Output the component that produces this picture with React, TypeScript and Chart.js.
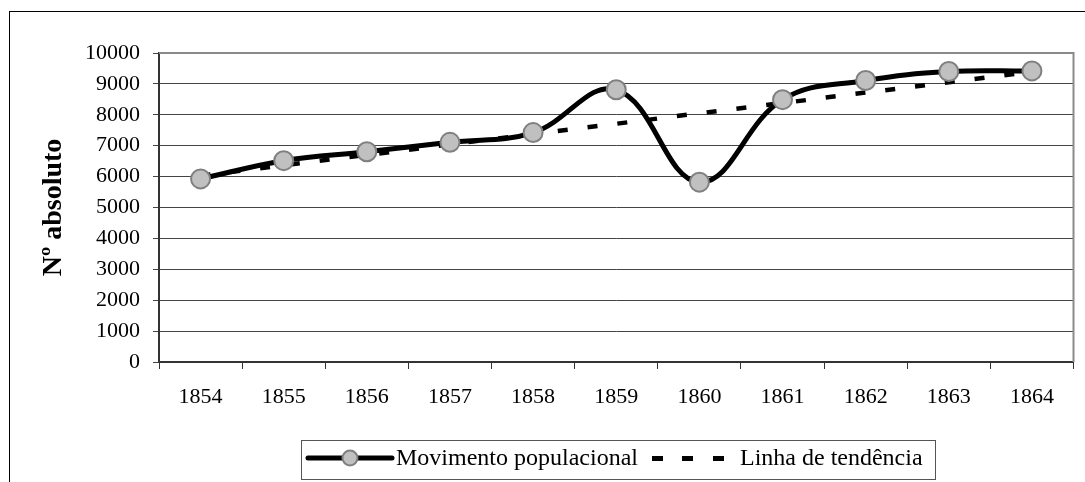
import React, { useEffect, useRef } from "react";
import { Chart, registerables } from "chart.js";

Chart.register(...registerables);

const years = ["1854", "1855", "1856", "1857", "1858", "1859", "1860", "1861", "1862", "1863", "1864"];
const population = [5925, 6515, 6805, 7110, 7425, 8810, 5820, 8490, 9110, 9400, 9420];
const trend = [6030, 6370, 6700, 7040, 7380, 7710, 8050, 8380, 8720, 9050, 9390];
const seriesNames = ["Movimento populacional", "Linha de tendência"];
const yAxisTitle = "Nº absoluto";
const yMin = 0;
const yMax = 10000;
const yStep = 1000;

const FONT = "'Liberation Serif', 'Times New Roman', serif";

const framePlugin = {
  id: "frameAndLegend",
  beforeDraw(chart: any) {
    const ctx = chart.ctx;
    ctx.save();
    ctx.fillStyle = "#ffffff";
    ctx.fillRect(0, 0, chart.width, chart.height);
    ctx.strokeStyle = "#000000";
    ctx.lineWidth = 1;
    ctx.strokeRect(9.5, 11.5, 2000, 2000);
    ctx.restore();
  },
  beforeDatasetsDraw(chart: any) {
    const ctx = chart.ctx;
    const a = chart.chartArea;
    ctx.save();
    ctx.strokeStyle = "#8a8a8a";
    ctx.lineWidth = 2;
    ctx.beginPath();
    ctx.moveTo(a.left, a.top);
    ctx.lineTo(a.right, a.top);
    ctx.lineTo(a.right, a.bottom);
    ctx.stroke();
    ctx.restore();
  },
  afterDraw(chart: any) {
    const ctx = chart.ctx;
    ctx.save();
    ctx.strokeStyle = "#555555";
    ctx.lineWidth = 1;
    ctx.strokeRect(301.5, 440.5, 634, 39);
    const cy = 458;
    ctx.strokeStyle = "#000000";
    ctx.lineWidth = 5;
    ctx.lineCap = "round";
    ctx.beginPath();
    ctx.moveTo(308, cy);
    ctx.lineTo(392, cy);
    ctx.stroke();
    ctx.beginPath();
    ctx.arc(350, cy, 7.5, 0, Math.PI * 2);
    ctx.fillStyle = "#c0c0c0";
    ctx.fill();
    ctx.strokeStyle = "#808080";
    ctx.lineWidth = 2;
    ctx.stroke();
    ctx.fillStyle = "#000000";
    ctx.font = `24px ${FONT}`;
    ctx.textBaseline = "middle";
    ctx.textAlign = "left";
    ctx.fillText(seriesNames[0], 396, cy + 1);
    [652, 682, 713].forEach((x) => ctx.fillRect(x, cy - 2, 11, 5));
    ctx.fillText(seriesNames[1], 740, cy + 1);
    ctx.restore();
  },
};

export default function App() {
  const ref = useRef<HTMLCanvasElement | null>(null);

  useEffect(() => {
    if (!ref.current) return;
    const chart = new Chart(ref.current, {
      type: "line",
      data: {
        labels: years,
        datasets: [
          {
            label: seriesNames[0],
            data: population,
            borderColor: "#000000",
            borderWidth: 5,
            tension: 0.4,
            pointRadius: 9.5,
            pointBorderWidth: 2,
            pointBackgroundColor: "#c0c0c0",
            pointBorderColor: "#808080",
            fill: false,
          },
          {
            label: seriesNames[1],
            data: trend,
            borderColor: "#000000",
            borderWidth: 4.5,
            borderDash: [10, 20],
            borderCapStyle: "butt",
            tension: 0,
            pointRadius: 0,
            fill: false,
          },
        ],
      },
      options: {
        responsive: false,
        animation: false,
        events: [],
        layout: { padding: { left: 0, right: 8, top: 53, bottom: 0 } },
        plugins: {
          legend: { display: false },
          tooltip: { enabled: false },
        },
        scales: {
          x: {
            type: "category",
            offset: true,
            grid: {
              offset: true,
              drawOnChartArea: false,
              drawTicks: true,
              tickLength: 7,
              color: "#333333",
              lineWidth: 1,
            },
            border: { color: "#333333", width: 2 },
            ticks: {
              font: { family: FONT, size: 22 },
              color: "#000000",
              padding: 15,
              maxRotation: 0,
              autoSkip: false,
            },
            afterFit: (s: any) => {
              s.height = 120;
            },
          },
          y: {
            min: yMin,
            max: yMax,
            ticks: {
              stepSize: yStep,
              font: { family: FONT, size: 22 },
              color: "#000000",
              padding: 13,
              callback: (v: any) => String(v),
            },
            grid: { color: "#444444", lineWidth: 1, tickLength: 6 },
            border: { color: "#333333", width: 2 },
            title: {
              display: true,
              text: yAxisTitle,
              font: { family: FONT, size: 28, weight: "bold" },
              color: "#000000",
              padding: { top: 37, bottom: 0 },
            },
            afterFit: (s: any) => {
              s.width = 159;
            },
          },
        },
      },
      plugins: [framePlugin],
    });
    return () => chart.destroy();
  }, []);

  return (
    <div style={{ position: "fixed", left: 0, top: 0, width: 1085, height: 482, background: "#fff" }}>
      <canvas ref={ref} width={1085} height={482} style={{ display: "block" }} />
    </div>
  );
}
